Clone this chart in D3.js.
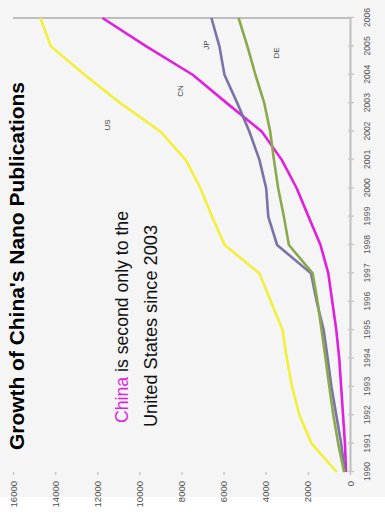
<!DOCTYPE html>
<html><head><meta charset="utf-8">
<script src="https://cdn.jsdelivr.net/npm/d3@7"></script>
<style>html,body{margin:0;padding:0;background:#fff;}svg{display:block;font-family:"Liberation Sans",Arial,sans-serif;}</style>
</head><body><div id="chart"></div>
<script>
const years = [1990,1991,1992,1993,1994,1995,1996,1997,1998,1999,2000,2001,2002,2003,2004,2005,2006];
const usValues = [630,1820,2400,2750,3000,3200,3750,4300,5950,6550,7100,7800,9000,10900,12600,14200,14700];
const cnValues = [190,240,330,420,510,650,840,1030,1400,1970,2530,3240,4190,5850,7470,9670,11750];
const jpValues = [240,420,650,880,1060,1250,1580,1850,3460,3880,3980,4300,4780,5350,5960,6200,6580];
const deValues = [280,560,790,980,1160,1350,1540,1770,2900,3140,3410,3610,3790,4070,4490,4870,5290];
const seriesNames = ["US","CN","JP","DE"];
const valueTicks = [0,2000,4000,6000,8000,10000,12000,14000,16000];
const titleText = "Growth of China's Nano Publications";

const series = [
  {name:"US", values:usValues, color:"#f1f03a"},
  {name:"CN", values:cnValues, color:"#e01fdf"},
  {name:"JP", values:jpValues, color:"#7c72a6"},
  {name:"DE", values:deValues, color:"#8aa94c"}
];

const IW = 385, IH = 518;      // picture size
const W = IH, H = IW;          // unrotated chart frame
const svg = d3.select("#chart").append("svg").attr("width", IW).attr("height", IH);
svg.append("rect").attr("width", IW).attr("height", IH).attr("fill", "#ffffff");

const g = svg.append("g").attr("transform", `translate(0,${IH}) rotate(-90)`);

// background panel
g.append("rect").attr("x", 21).attr("y", 0).attr("width", W - 21).attr("height", H).attr("fill", "#f5f5f5");

const x = d3.scalePoint().domain(years).range([46, 500]);
const y = d3.scaleLinear().domain([0, 16000]).range([350, 13]);

// value axis (no line, small ticks)
const yAxis = g.append("g").attr("transform", "translate(46,0)")
  .call(d3.axisLeft(y).tickValues(valueTicks).tickFormat(d3.format("d")).tickSize(3).tickPadding(6));
yAxis.select(".domain").remove();
yAxis.selectAll(".tick line").attr("stroke", "#c8c8c8").attr("stroke-width", 1.5);
yAxis.selectAll(".tick text").attr("fill", "#4a4a4a").style("font-size", "9.5px");

// year axis
const xAxis = g.append("g").attr("transform", "translate(0,350)")
  .call(d3.axisBottom(x).tickSizeInner(4).tickSizeOuter(0).tickPadding(10));
xAxis.select(".domain").attr("stroke", "#bdbdbd").attr("stroke-width", 2);
xAxis.selectAll(".tick line").attr("stroke", "#c8c8c8").attr("stroke-width", 1.5).attr("y1", -2);
xAxis.selectAll(".tick text").attr("fill", "#555").style("font-size", "8.6px");

// right border of plot
g.append("line").attr("x1", x(2006)).attr("x2", x(2006)).attr("y1", y(16000)).attr("y2", y(0))
  .attr("stroke", "#bdbdbd").attr("stroke-width", 2);

// lines
const line = d3.line().x((d, i) => x(years[i])).y(d => y(d));
g.selectAll("path.series").data(series).enter().append("path")
  .attr("class", "series")
  .attr("d", d => line(d.values))
  .attr("fill", "none")
  .attr("stroke", d => d.color)
  .attr("stroke-width", 2.6)
  .attr("stroke-linejoin", "round");

// series labels
const labelPos = {US:[393,110], CN:[427,183], JP:[473,209], DE:[465,279]};
g.selectAll("text.slabel").data(seriesNames).enter().append("text")
  .attr("class", "slabel")
  .attr("x", d => labelPos[d][0]).attr("y", d => labelPos[d][1])
  .attr("text-anchor", "middle")
  .attr("fill", "#444").style("font-size", "8px")
  .text(d => d);

// title
g.append("text").attr("x", 68).attr("y", 24)
  .attr("textLength", 368).attr("lengthAdjust", "spacingAndGlyphs")
  .style("font-size", "21px").style("font-weight", "bold").attr("fill", "#000")
  .text(titleText);

// annotation
const a1 = g.append("text").attr("x", 95).attr("y", 128)
  .attr("textLength", 212).attr("lengthAdjust", "spacingAndGlyphs")
  .style("font-size", "19px").attr("fill", "#111");
a1.append("tspan").attr("fill", "#e01fdf").text("China");
a1.append("tspan").text(" is second only to the");
g.append("text").attr("x", 91).attr("y", 157)
  .attr("textLength", 202).attr("lengthAdjust", "spacingAndGlyphs")
  .style("font-size", "19px").attr("fill", "#111")
  .text("United States since 2003");
</script></body></html>
